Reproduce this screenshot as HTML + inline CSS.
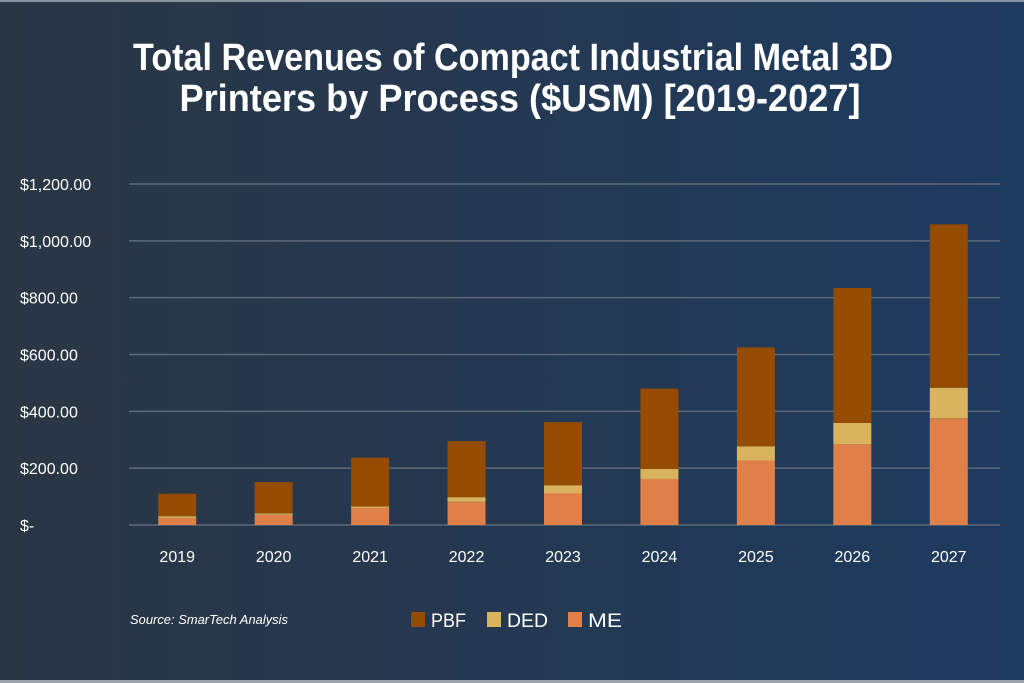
<!DOCTYPE html>
<html><head><meta charset="utf-8"><style>
html,body{margin:0;padding:0;background:#243347;}
svg{display:block;font-family:"Liberation Sans",sans-serif;}
</style></head><body>
<svg id="chart" width="1024" height="683" viewBox="0 0 1024 683">
<defs><linearGradient id="bg" x1="0" y1="0" x2="1" y2="0"><stop offset="0" stop-color="#2a3644"/><stop offset="1" stop-color="#1e3b60"/></linearGradient></defs>
<rect x="0" y="0" width="1024" height="683" fill="url(#bg)"/>
<rect x="0" y="0" width="1024" height="2" fill="#8a93a0"/>
<rect x="0" y="680" width="1024" height="3" fill="#9aa2ac"/>
<text x="513" y="70" fill="#fff" font-size="38" font-weight="bold" text-anchor="middle" textLength="760" lengthAdjust="spacingAndGlyphs">Total Revenues of Compact Industrial Metal 3D</text>
<text x="520" y="111" fill="#fff" font-size="38" font-weight="bold" text-anchor="middle" textLength="681" lengthAdjust="spacingAndGlyphs">Printers by Process ($USM) [2019-2027]</text>
<g id="grid"></g><g id="bars"></g><g id="labels"></g>
<text x="130" y="624" fill="#fff" font-size="13" font-style="italic" textLength="158" lengthAdjust="spacingAndGlyphs">Source: SmarTech Analysis</text>
<g>
<rect x="411" y="612" width="14" height="15" fill="#954b00"/>
<text x="431" y="627" fill="#fff" font-size="19" textLength="35" lengthAdjust="spacingAndGlyphs">PBF</text>
<rect x="487" y="612" width="14" height="15" fill="#d9b35e"/>
<text x="507" y="627" fill="#fff" font-size="19" textLength="41" lengthAdjust="spacingAndGlyphs">DED</text>
<rect x="568" y="612" width="14" height="15" fill="#df8048"/>
<text x="588" y="627" fill="#fff" font-size="19" textLength="34" lengthAdjust="spacingAndGlyphs">ME</text>
</g>
</svg>
<script>
const years=["2019","2020","2021","2022","2023","2024","2025","2026","2027"];
const me=[25,36,60,82,111,162,227,284,376];
const ded=[6,5,5,16,29,35,50,75,107];
const pbf=[79,110,172,197,222,283,348,475,575];
const ticks=[0,200,400,600,800,1000,1200];
const tickLabels=["$-","$200.00","$400.00","$600.00","$800.00","$1,000.00","$1,200.00"];
const NS="http://www.w3.org/2000/svg";
const x0=129,x1=997,y0=525,yTop=184,maxV=1200;
const y=v=>y0-(v/maxV)*(y0-yTop);
const bw=(x1-x0)/years.length;
const xc=i=>x0+bw*(i+0.5);
function mk(tag,attrs,parent){const e=document.createElementNS(NS,tag);for(const k in attrs)e.setAttribute(k,attrs[k]);parent.appendChild(e);return e;}
const grid=document.getElementById('grid'),bars=document.getElementById('bars'),labels=document.getElementById('labels');
ticks.forEach((t,i)=>{
 const l=mk('line',{x1:x0,x2:x1+3,y1:y(t),y2:y(t),stroke:'#5d6878','stroke-width':1.5},grid);
 
 
 const tx=mk('text',{x:20,y:y(t)+6,fill:'#fff','font-size':16},labels);
 tx.textContent=tickLabels[i];
 
 
});
const series=[[me,'#df8048','me'],[ded,'#d9b35e','ded'],[pbf,'#954b00','pbf']];
years.forEach((yr,i)=>{
 let base=0;
 series.forEach(([arr,col,nm])=>{
  const v=arr[i];
  const r=mk('rect',{x:xc(i)-19,width:38,y:y(base+v),height:y(base)-y(base+v),fill:col},bars);
  
  
  base+=v;
 });
 const tx=mk('text',{x:xc(i),y:562,fill:'#fff','font-size':16,'text-anchor':'middle'},labels);
 tx.textContent=yr;
 
 
});
</script>
</body></html>
